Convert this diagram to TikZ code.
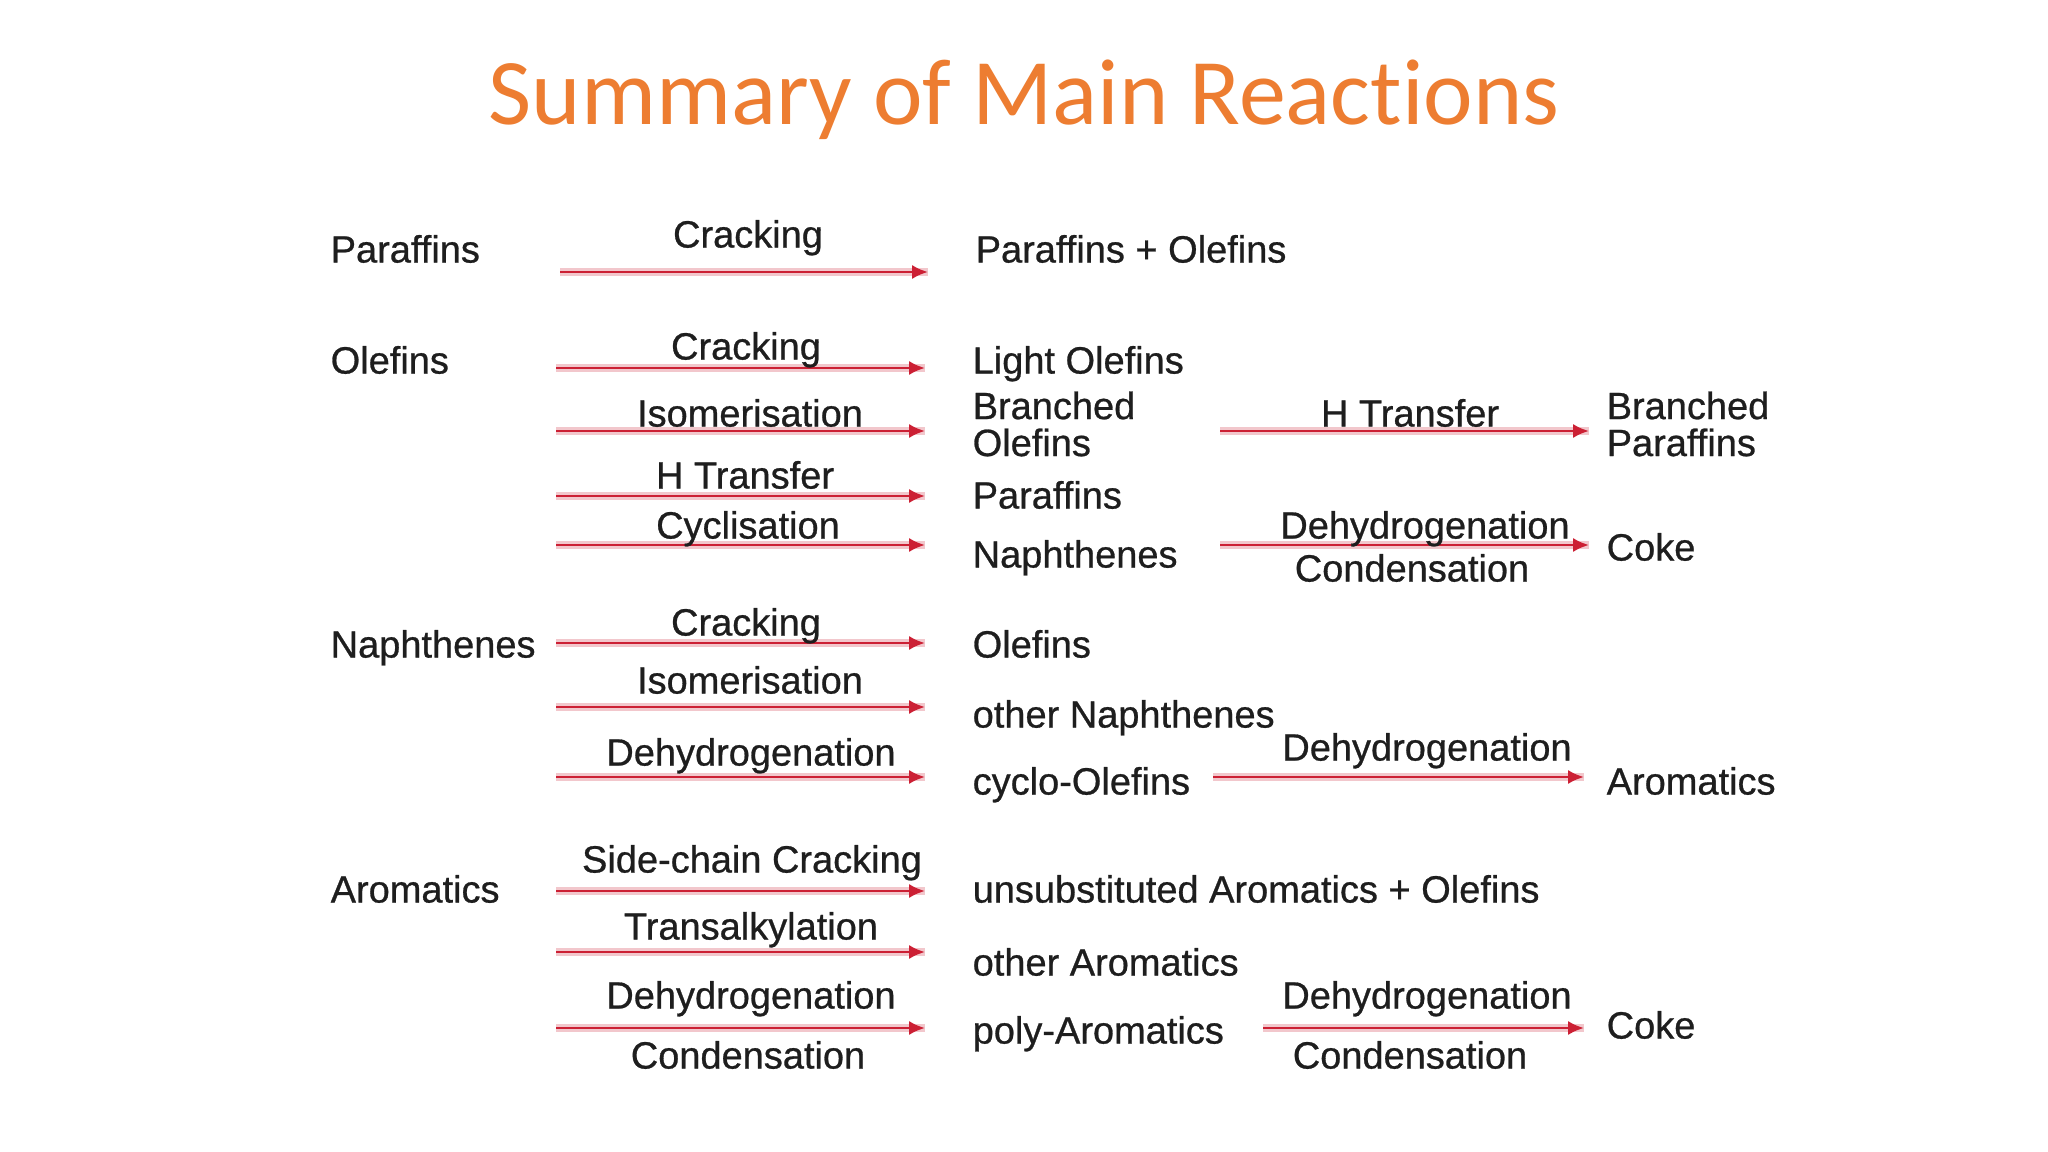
\documentclass[tikz,border=0pt]{standalone}
\usepackage{fontspec}
\setmainfont{Liberation Sans}
\newfontfamily\rxnfont{Liberation Sans}[FakeBold=0.7]
\newfontfamily\titlefont{Carlito}[Ligatures=NoCommon]
\usetikzlibrary{arrows.meta}
\definecolor{titleorange}{RGB}{237,125,49}
\definecolor{rxnred}{RGB}{204,32,52}
\definecolor{inkgray}{RGB}{30,30,30}

\begin{document}
\begin{tikzpicture}[x=0.01cm,y=-0.01cm,
        species/.style={anchor=west,inner sep=0pt,text=inkgray,font=\rxnfont\fontsize{10.8}{10.5}\selectfont,text height=7.7pt,text depth=0pt},
        twoline/.style={anchor=west,inner sep=0pt,text=inkgray,font=\rxnfont\fontsize{10.8}{10.5}\selectfont,align=left},
        process/.style={inner sep=0pt,text=inkgray,font=\rxnfont\fontsize{10.8}{10.5}\selectfont,text height=7.7pt,text depth=0pt},
        rxn/.style={draw=rxnred,line width=0.8pt,-{Latex[length=4.5pt,width=4pt]},
            preaction={draw=rxnred!25,line width=2pt,-}}]
                \fill[white] (0,0) rectangle (2048,1152);
                \useasboundingbox (0,0) rectangle (2048,1152);
                \node[font=\titlefont\fontsize{26.7}{30}\selectfont,text=titleorange,anchor=base] (title) at (1024,125) {Summary of Main Reactions};

                \node[species] (par) at (330,249) {Paraffins};
                \node[species] (ole) at (330,360) {Olefins};
                \node[species] (nap) at (330,644) {Naphthenes};
                \node[species] (aro) at (330,889) {Aromatics};

                \node[species] (parole) at (975,249) {Paraffins + Olefins};
                \node[species] (ligole) at (972,360) {Light Olefins};
                \node[twoline] (brole) at (972,424) {Branched\\Olefins};
                \node[species] (par2) at (972,495) {Paraffins};
                \node[species] (nap2) at (972,554) {Naphthenes};
                \node[species] (ole2) at (972,644) {Olefins};
                \node[species] (onap) at (972,714) {other Naphthenes};
                \node[species] (cyole) at (972,781) {cyclo-Olefins};
                \node[species] (unsar) at (972,889) {unsubstituted Aromatics + Olefins};
                \node[species] (oar) at (972,962) {other Aromatics};
                \node[species] (polyar) at (972,1030) {poly-Aromatics};

                \node[twoline] (brpar) at (1606,424) {Branched\\Paraffins};
                \node[species] (coke1) at (1606,547) {Coke};
                \node[species] (arom) at (1606,781) {Aromatics};
                \node[species] (coke2) at (1606,1025) {Coke};

                \coordinate (a1s) at (560,272);  \coordinate (a1e) at (928,272);
                \coordinate (a2s) at (556,368);  \coordinate (a2e) at (925,368);
                \coordinate (a3s) at (556,431);  \coordinate (a3e) at (925,431);
                \coordinate (a4s) at (556,496);  \coordinate (a4e) at (925,496);
                \coordinate (a5s) at (556,545);  \coordinate (a5e) at (925,545);
                \coordinate (a6s) at (556,643);  \coordinate (a6e) at (925,643);
                \coordinate (a7s) at (556,707);  \coordinate (a7e) at (925,707);
                \coordinate (a8s) at (556,777);  \coordinate (a8e) at (925,777);
                \coordinate (a9s) at (556,891);  \coordinate (a9e) at (925,891);
                \coordinate (a10s) at (556,952); \coordinate (a10e) at (925,952);
                \coordinate (a11s) at (556,1028); \coordinate (a11e) at (925,1028);
                \coordinate (b1s) at (1220,431); \coordinate (b1e) at (1589,431);
                \coordinate (b2s) at (1220,545); \coordinate (b2e) at (1589,545);
                \coordinate (b3s) at (1213,777); \coordinate (b3e) at (1584,777);
                \coordinate (b4s) at (1263,1028); \coordinate (b4e) at (1584,1028);

                \draw[rxn] (a1s) -- (a1e);
                \draw[rxn] (a2s) -- (a2e);
                \draw[rxn] (a3s) -- (a3e);
                \draw[rxn] (a4s) -- (a4e);
                \draw[rxn] (a5s) -- (a5e);
                \draw[rxn] (a6s) -- (a6e);
                \draw[rxn] (a7s) -- (a7e);
                \draw[rxn] (a8s) -- (a8e);
                \draw[rxn] (a9s) -- (a9e);
                \draw[rxn] (a10s) -- (a10e);
                \draw[rxn] (a11s) -- (a11e);
                \draw[rxn] (b1s) -- (b1e);
                \draw[rxn] (b2s) -- (b2e);
                \draw[rxn] (b3s) -- (b3e);
                \draw[rxn] (b4s) -- (b4e);

                \node[process] (crack1) at (748,234) {Cracking};
                \node[process] (crack2) at (746,346) {Cracking};
                \node[process] (isom1) at (750,413) {Isomerisation};
                \node[process] (htr1) at (745,475) {H Transfer};
                \node[process] (cycl) at (748,525) {Cyclisation};
                \node[process] (crack3) at (746,622) {Cracking};
                \node[process] (isom2) at (750,680) {Isomerisation};
                \node[process] (dehy1) at (751,752) {Dehydrogenation};
                \node[process] (side) at (752,859) {Side-chain Cracking};
                \node[process] (trans) at (751,926) {Transalkylation};
                \node[process] (dehy2) at (751,995) {Dehydrogenation};
                \node[process] (cond1) at (748,1055) {Condensation};
                \node[process] (htr2) at (1410,413) {H Transfer};
                \node[process] (dehy3) at (1425,525) {Dehydrogenation};
                \node[process] (cond2) at (1412,568) {Condensation};
                \node[process] (dehy4) at (1427,747) {Dehydrogenation};
                \node[process] (dehy5) at (1427,995) {Dehydrogenation};
                \node[process] (cond3) at (1410,1055) {Condensation};
            \end{tikzpicture}
\end{document}
